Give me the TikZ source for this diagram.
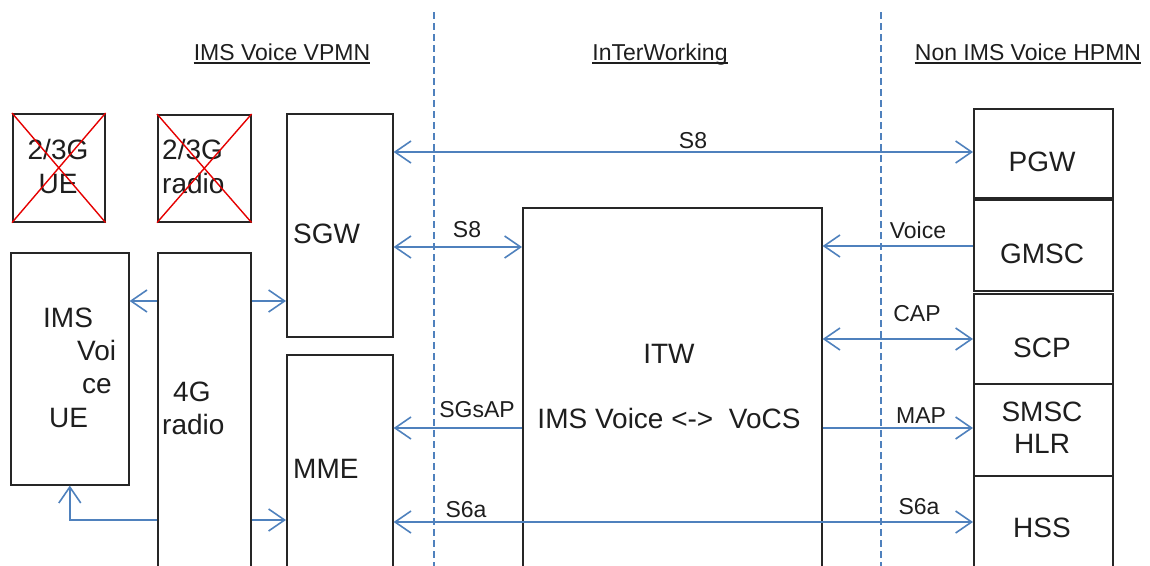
\documentclass[tikz,border=0pt]{standalone}
\usepackage{fontspec}
\setmainfont{Liberation Sans}
\usetikzlibrary{arrows.meta}
\definecolor{lnblue}{RGB}{79,129,189}
\definecolor{txt}{RGB}{30,30,30}
\begin{document}
\begin{tikzpicture}[x=1pt,y=-1pt,
  box/.style={draw=black!85, line width=1.6pt, anchor=north west, inner sep=0pt},
  arr/.style={draw=lnblue, line width=1.6pt},
  >={Straight Barb[length=16pt,width=22pt]},
  sep/.style={draw=lnblue, line width=1.3pt, dash pattern=on 7pt off 4pt},
  cross/.style={draw=red!90!black, line width=1.4pt},
  big/.style={inner sep=0pt, text=txt, font=\fontsize{28}{28}\selectfont},
  small/.style={inner sep=0pt, text=txt, font=\fontsize{23}{23}\selectfont},
  hdr/.style={inner sep=0pt, text=txt, font=\fontsize{23}{23}\selectfont, anchor=base}
]
\useasboundingbox (0,0) rectangle (1150,565);
\clip (0,0) rectangle (1150,565);

% separators
\coordinate (d1t) at (434,12);
\coordinate (d1b) at (434,570);
\coordinate (d2t) at (881,12);
\coordinate (d2b) at (881,570);
\draw[sep] (d1t) -- (d1b);
\draw[sep] (d2t) -- (d2b);

% headers
\node[hdr] (h1) at (282,60) {IMS Voice VPMN};
\node[hdr] (h2) at (660,60) {InTerWorking};
\node[hdr] (h3) at (1028,60) {Non IMS Voice HPMN};
\foreach \h in {h1,h2,h3}
  \draw[line width=1.3pt, txt] ([yshift=-3pt]\h.base west) -- ([yshift=-3pt]\h.base east);

% boxes
\node[box, minimum width=92pt, minimum height=108pt] (ue23) at (12,113) {};
\node[box, minimum width=93pt, minimum height=107pt] (r23) at (157,114) {};
\node[box, minimum width=106pt, minimum height=223pt] (sgw) at (286,113) {};
\node[box, minimum width=118pt, minimum height=232pt] (ue) at (10,252) {};
\node[box, minimum width=93pt, minimum height=330pt] (radio) at (157,252) {};
\node[box, minimum width=106pt, minimum height=230pt] (mme) at (286,354) {};
\node[box, minimum width=299pt, minimum height=380pt] (itw) at (522,207) {};
\node[box, minimum width=139pt, minimum height=89pt] (pgw) at (973,108) {};
\node[box, minimum width=139pt, minimum height=91pt] (gmsc) at (973,199) {};
\node[box, minimum width=139pt, minimum height=90pt] (scp) at (973,293) {};
\node[box, minimum width=139pt, minimum height=92pt] (smsc) at (973,383) {};
\node[box, minimum width=139pt, minimum height=110pt] (hss) at (973,475) {};

% box texts
\node[big, anchor=base] (t1) at (58,159) {2/3G};
\node[big, anchor=base] (t2) at (58,193) {UE};
\node[big, anchor=base west] (t3) at (162,159) {2/3G};
\node[big, anchor=base west] (t4) at (162,193) {radio};
\node[big, anchor=base west] (t5) at (293,243) {SGW};
\node[big, anchor=base west] (t6) at (43,327) {IMS};
\node[big, anchor=base west] (t7) at (77,360) {Voi};
\node[big, anchor=base west] (t8) at (82,393) {ce};
\node[big, anchor=base west] (t9) at (49,427) {UE};
\node[big, anchor=base west] (t10) at (173,401) {4G};
\node[big, anchor=base west] (t11) at (162,434) {radio};
\node[big, anchor=base west] (t12) at (293,478) {MME};
\node[big, anchor=base] (t13) at (669,363) {ITW};
\node[big, anchor=base] (t14) at (669,428) {IMS Voice <->\ \ VoCS};
\node[big, anchor=base] (t15) at (1042,171) {PGW};
\node[big, anchor=base] (t16) at (1042,263) {GMSC};
\node[big, anchor=base] (t17) at (1042,357) {SCP};
\node[big, anchor=base] (t18) at (1042,421) {SMSC};
\node[big, anchor=base] (t19) at (1042,453) {HLR};
\node[big, anchor=base] (t20) at (1042,537) {HSS};

% crosses
\draw[cross] (ue23.north west) -- (ue23.south east);
\draw[cross] (ue23.north east) -- (ue23.south west);
\draw[cross] (r23.north west) -- (r23.south east);
\draw[cross] (r23.north east) -- (r23.south west);

% connectors
\draw[arr, <->] (sgw.east |- 0,152) -- (pgw.west |- 0,152);
\draw[arr, <->] (sgw.east |- 0,247) -- (itw.west |- 0,247);
\draw[arr, ->] (gmsc.west |- 0,246) -- (itw.east |- 0,246);
\draw[arr, <->] (itw.east |- 0,339) -- (scp.west |- 0,339);
\draw[arr, ->] (itw.east |- 0,428) -- (smsc.west |- 0,428);
\draw[arr, ->] (itw.west |- 0,428) -- (mme.east |- 0,428);
\draw[arr, <->] (mme.east |- 0,522) -- (hss.west |- 0,522);
\draw[arr, ->] (radio.west |- 0,301) -- (ue.east |- 0,301);
\draw[arr, ->] (radio.east |- 0,301) -- (sgw.west |- 0,301);
\draw[arr, ->] (radio.west |- 0,520) -| (ue.south);
\draw[arr, ->] (radio.east |- 0,520) -- (mme.west |- 0,520);

% connector labels
\node[small, anchor=base] (l1) at (693,148) {S8};
\node[small, anchor=base] (l2) at (467,237) {S8};
\node[small, anchor=base] (l3) at (918,238) {Voice};
\node[small, anchor=base] (l4) at (917,321) {CAP};
\node[small, anchor=base] (l5) at (921,423) {MAP};
\node[small, anchor=base] (l6) at (919,514) {S6a};
\node[small, anchor=base] (l7) at (477,417) {SGsAP};
\node[small, anchor=base] (l8) at (466,517) {S6a};
\end{tikzpicture}
\end{document}
